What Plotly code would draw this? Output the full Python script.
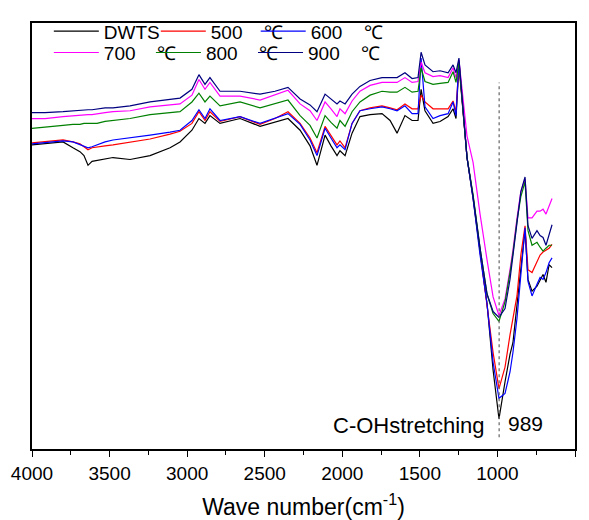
import plotly.graph_objects as go

# wavenumber (cm-1) sample points
wavenumber = [4000, 3916, 3800, 3736, 3691, 3665, 3639, 3613, 3581, 3529,
              3478, 3368, 3239, 3110, 3046, 2969, 2924, 2885, 2853, 2788,
              2659, 2530, 2434, 2350, 2272, 2208, 2163, 2111, 2073, 2034,
              2015, 1982, 1937, 1886, 1821, 1744, 1692, 1647, 1596, 1550,
              1512, 1492, 1467, 1415, 1370, 1318, 1286, 1267, 1248, 1196,
              1157, 1112, 1067, 1028, 990, 951, 919, 900, 874, 849,
              822, 803, 777, 745, 725, 706, 687, 667, 648]

# transmittance, arbitrary units (no y scale shown)
t_dwts = [313, 314, 316, 310, 306, 302, 292, 296, 297, 299,
          300, 298, 302, 310, 316, 328, 340, 335, 343, 335,
          340, 332, 336, 340, 328, 312, 292, 323, 312, 302,
          307, 302, 325, 342, 344, 345, 338, 325, 343, 338,
          338, 370, 348, 335, 337, 342, 350, 340, 395, 300,
          258, 202, 150, 82, 32, 70, 98, 110, 150, 185,
          226, 175, 163, 168, 175, 180, 172, 190, 187]
t_500 = [315, 316, 318, 316, 314, 311, 308, 310, 311, 312,
         313, 316, 319, 324, 327, 335, 347, 338, 347, 337,
         342, 334, 340, 347, 335, 320, 305, 332, 322, 313,
         317, 310, 335, 348, 351, 353, 351, 349, 355, 350,
         350, 364, 357, 350, 350, 350, 358, 347, 398, 300,
         260, 205, 153, 100, 63, 85, 118, 135, 158, 200,
         230, 185, 182, 193, 200, 203, 205, 207, 211]
t_600 = [314, 315, 317, 316, 313, 312, 310, 311, 313, 316,
         318, 320, 323, 326, 328, 338, 349, 340, 350, 338,
         342, 335, 340, 345, 334, 318, 302, 330, 320, 310,
         313, 308, 335, 348, 350, 352, 350, 348, 353, 345,
         345, 402, 352, 340, 343, 345, 357, 343, 400, 300,
         258, 200, 150, 90, 53, 58, 80, 100, 135, 180,
         228, 173, 158, 170, 177, 175, 182, 192, 197]
t_700 = [340, 340, 342, 343, 343, 344, 344, 344, 345, 346,
         347, 348, 352, 354, 355, 364, 380, 370, 377, 363,
         363, 359, 364, 369, 355, 348, 338, 357, 350, 342,
         350, 345, 358, 368, 374, 377, 377, 377, 382, 377,
         378, 398, 387, 383, 384, 382, 392, 382, 400, 322,
         295, 242, 195, 157, 138, 155, 185, 205, 238, 265,
         278, 238, 238, 245, 245, 247, 242, 250, 258]
t_800 = [330, 331, 333, 334, 334, 335, 335, 335, 335, 337,
         338, 340, 344, 346, 347, 357, 366, 357, 363, 353,
         357, 351, 355, 359, 343, 333, 320, 343, 336, 330,
         338, 332, 347, 357, 364, 368, 367, 367, 372, 367,
         368, 392, 378, 375, 376, 377, 388, 377, 398, 300,
         262, 207, 160, 140, 132, 152, 182, 202, 235, 260,
         275, 225, 210, 213, 208, 204, 207, 210, 210]
t_900 = [346, 346, 347, 348, 348, 349, 349, 349, 350, 351,
         351, 353, 357, 360, 361, 370, 385, 375, 382, 368,
         368, 365, 368, 372, 360, 354, 347, 365, 360, 355,
         358, 355, 365, 373, 379, 382, 382, 382, 387, 381,
         382, 408, 395, 388, 389, 387, 395, 387, 402, 300,
         260, 207, 160, 142, 136, 145, 175, 200, 235, 265,
         280, 230, 217, 225, 220, 218, 210, 222, 231]

SP = '\u00a0' * 4
names = ['DWTS', '500' + SP + '℃', '600' + SP + '℃',
         '700' + SP + '℃', '800' + SP + '℃', '900' + SP + '℃']
series = [t_dwts, t_500, t_600, t_700, t_800, t_900]
COLORS = ['#000000', '#FF0000', '#0000FF', '#FF00FF', '#008000', '#000080']

FONT = 'Arial, Liberation Sans, sans-serif'

# one legend per entry so the two rows of three sit like the original
legend_ids = ['legend', 'legend2', 'legend3', 'legend4', 'legend5', 'legend6']
legend_xy = [(0.031, 1.025), (0.228, 1.025), (0.412, 1.025),
             (0.031, 0.975), (0.219, 0.975), (0.407, 0.975)]

fig = go.Figure()
for name, ys, col, lg in zip(names, series, COLORS, legend_ids):
    fig.add_trace(go.Scatter(x=wavenumber, y=ys, name=name, mode='lines',
                             line=dict(color=col, width=1.2), legend=lg,
                             showlegend=True))

# peak marker at 989 cm-1
fig.add_shape(type='line', x0=989, x1=989, y0=13, y1=377, xref='x', yref='y',
              line=dict(color='#666666', width=1.2, dash='3px,3px'))
fig.add_annotation(x=1570, y=25, text='C-OHstretching', showarrow=False,
                   font=dict(size=22, color='black', family=FONT))
fig.add_annotation(x=816, y=27, text='989', showarrow=False,
                   font=dict(size=21, color='black', family=FONT))

legend_layout = {}
for lg, (lx, ly) in zip(legend_ids, legend_xy):
    legend_layout[lg] = dict(x=lx, y=ly, xanchor='left', yanchor='top', visible=True,
                             orientation='h', bgcolor='rgba(0,0,0,0)', itemwidth=45,
                             font=dict(size=19, color='black', family=FONT))

fig.update_layout(
    width=589, height=520, autosize=False, showlegend=True,
    margin=dict(l=32, r=14, t=12, b=71),
    paper_bgcolor='white', plot_bgcolor='white',
    font=dict(family=FONT, color='black'),
    xaxis=dict(range=[4000, 500], tickvals=[4000, 3500, 3000, 2500, 2000, 1500, 1000, 500],
               ticks='outside', ticklen=6, tickwidth=1.2, tickcolor='black',
               minor=dict(dtick=250, ticks='outside', ticklen=4, tickcolor='black', tickwidth=1.2),
               showline=True, linecolor='black', linewidth=2, mirror=True,
               showgrid=False, zeroline=False, automargin=False,
               tickfont=dict(size=19, color='black'),
               title=dict(text='Wave number(cm<sup>-1</sup>)', font=dict(size=23, color='black'),
                          standoff=18)),
    yaxis=dict(range=[1, 438], showticklabels=False, ticks='',
               showline=True, linecolor='black', linewidth=2, mirror=True,
               showgrid=False, zeroline=False, automargin=False),
    **legend_layout,
)

fig.write_html('out.html', config={'responsive': False, 'displayModeBar': False},
               post_script="document.body.style.margin='0';document.body.style.overflow='hidden';")
